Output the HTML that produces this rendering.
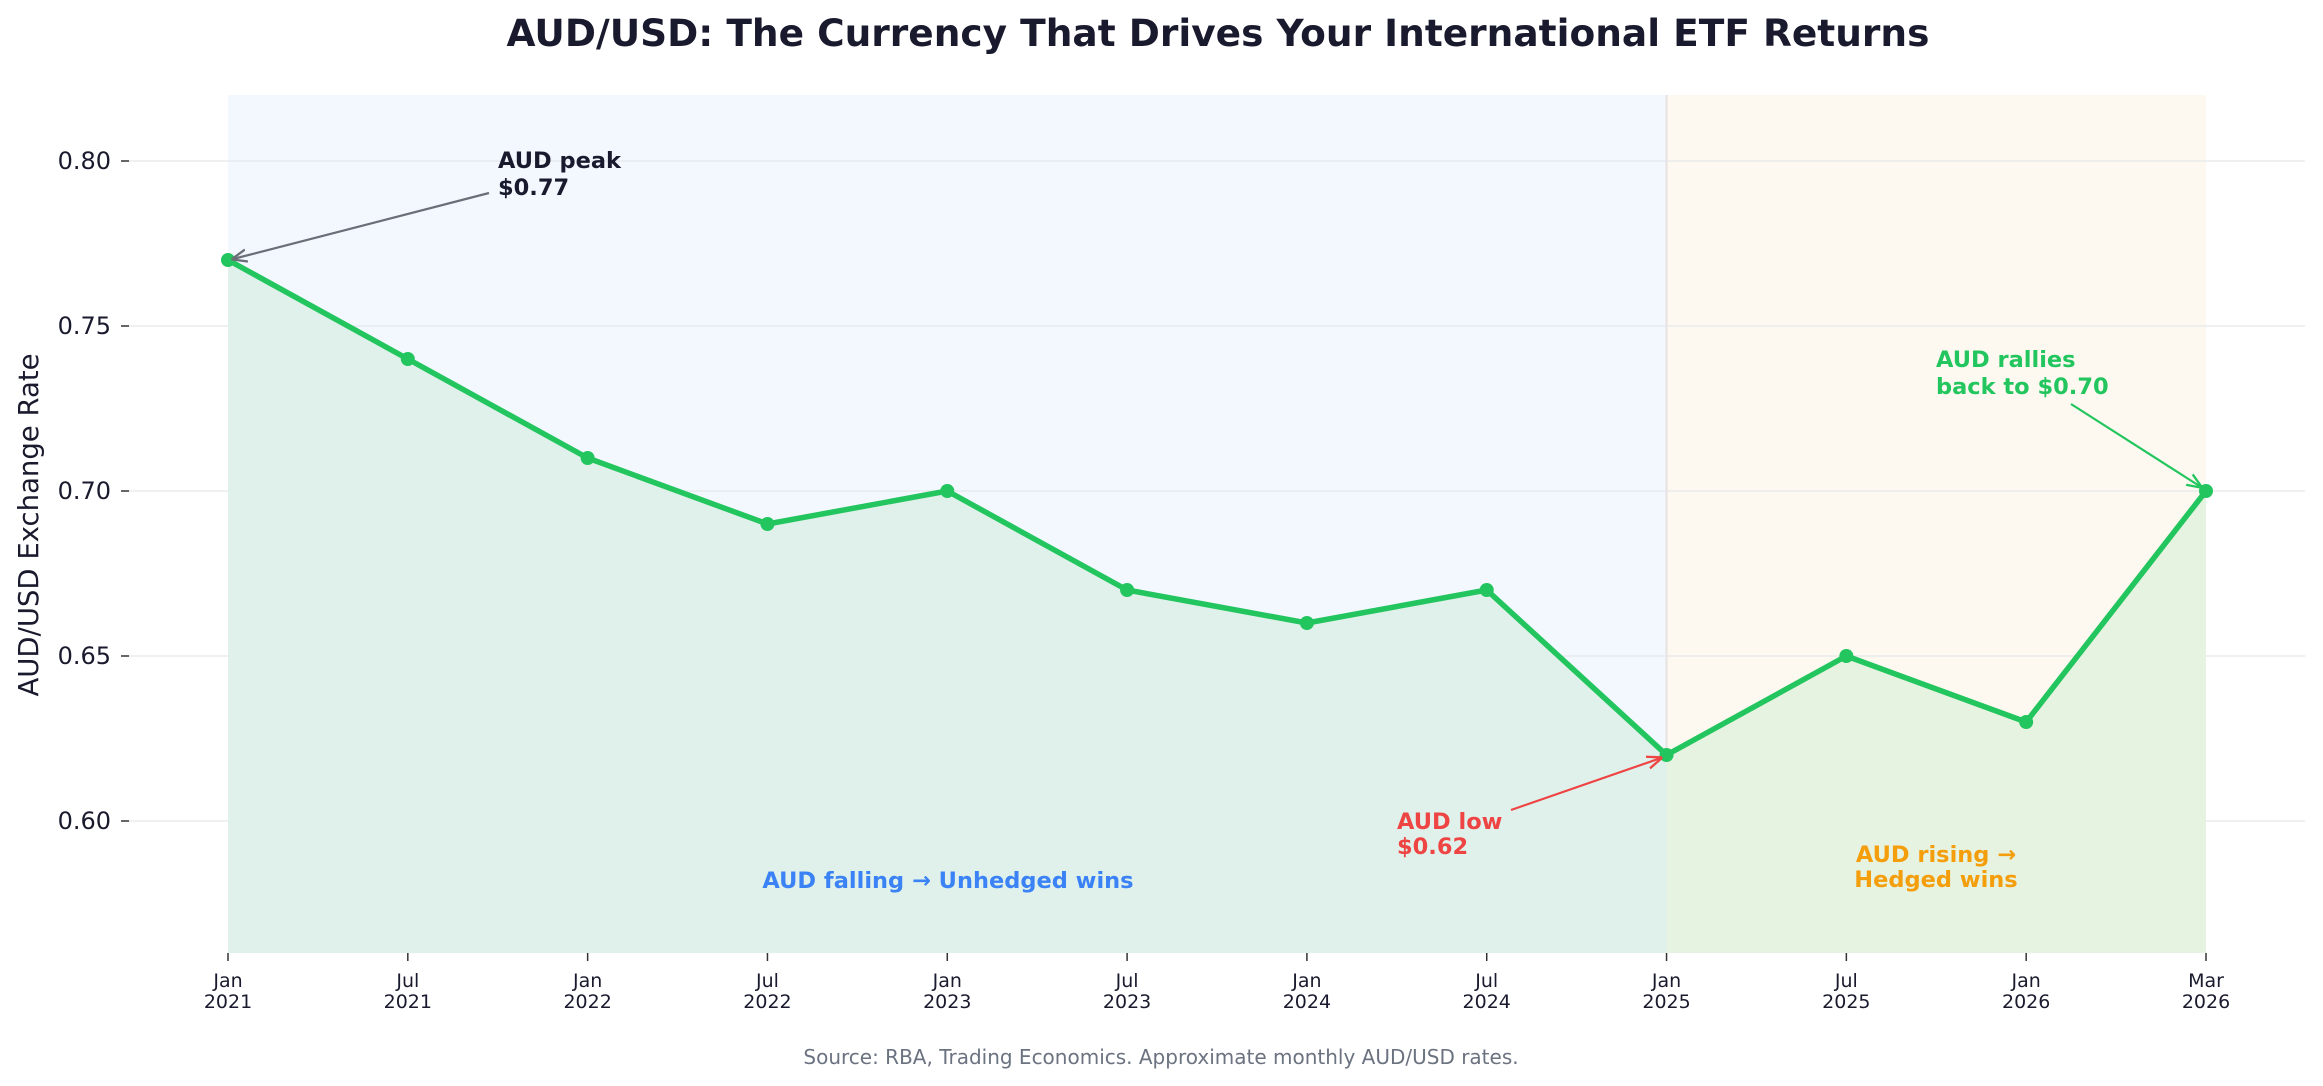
<!DOCTYPE html>
<html><head><meta charset="utf-8"><style>
html,body{margin:0;padding:0;background:#fff;}
svg{display:block;font-family:"DejaVu Sans","Liberation Sans",sans-serif;}
</style></head><body>
<svg id="chart" width="2323" height="1086" viewBox="0 0 2323 1086">
<defs>
<marker id="arrG" viewBox="0 0 10 10" refX="9" refY="5" markerWidth="7" markerHeight="7" orient="auto"><path d="M0,1 L10,5 L0,9" fill="none" stroke="#6b6e76" stroke-width="1.5"/></marker>
<marker id="arrR" viewBox="0 0 10 10" refX="9" refY="5" markerWidth="7" markerHeight="7" orient="auto"><path d="M0,1 L10,5 L0,9" fill="none" stroke="#ef4444" stroke-width="1.5"/></marker>
<marker id="arrGr" viewBox="0 0 10 10" refX="9" refY="5" markerWidth="7" markerHeight="7" orient="auto"><path d="M0,1 L10,5 L0,9" fill="none" stroke="#22c55e" stroke-width="1.5"/></marker>
</defs>
<text x="1218" y="46" text-anchor="middle" font-size="37.5" font-weight="bold" fill="#1a1a2e">AUD/USD: The Currency That Drives Your International ETF Returns</text>
<g id="bands"></g>
<g id="grid"></g>
<g id="area"></g>
<g id="series"></g>
<g id="axes"></g>
<text transform="translate(38,525) rotate(-90)" text-anchor="middle" font-size="27.5" fill="#1a1a2e">AUD/USD Exchange Rate</text>

<text x="498" y="168" font-size="22.5" font-weight="bold" fill="#1a1a2e"><tspan x="498">AUD peak</tspan><tspan x="498" dy="27">$0.77</tspan></text>
<line x1="489" y1="193" x2="233" y2="259" stroke="#6b6e76" stroke-width="2.2" marker-end="url(#arrG)"/>
<text x="1936" y="367" font-size="22.5" font-weight="bold" fill="#22c55e"><tspan x="1936">AUD rallies</tspan><tspan x="1936" dy="27">back to $0.70</tspan></text>
<line x1="2071" y1="404" x2="2201" y2="487" stroke="#22c55e" stroke-width="2.2" marker-end="url(#arrGr)"/>
<text x="1397" y="829" font-size="22.5" font-weight="bold" fill="#ef4444"><tspan x="1397">AUD low</tspan><tspan x="1397" dy="25">$0.62</tspan></text>
<line x1="1511" y1="810" x2="1661" y2="758" stroke="#ef4444" stroke-width="2.2" marker-end="url(#arrR)"/>
<text x="948" y="888" text-anchor="middle" font-size="22.5" font-weight="bold" fill="#3b82f6">AUD falling → Unhedged wins</text>
<text x="1936" y="862" text-anchor="middle" font-size="22.5" font-weight="bold" fill="#f59e0b"><tspan x="1936">AUD rising →</tspan><tspan x="1936" dy="25">Hedged wins</tspan></text>
<text x="1161" y="1064" text-anchor="middle" font-size="20" fill="#6b7280">Source: RBA, Trading Economics. Approximate monthly AUD/USD rates.</text>
</svg>
<script>
const categories = ["Jan\n2021","Jul\n2021","Jan\n2022","Jul\n2022","Jan\n2023","Jul\n2023","Jan\n2024","Jul\n2024","Jan\n2025","Jul\n2025","Jan\n2026","Mar\n2026"];
const rates = [0.77,0.74,0.71,0.69,0.70,0.67,0.66,0.67,0.62,0.65,0.63,0.70];
const yTicks = [0.60,0.65,0.70,0.75,0.80];
const splitIndex = 8;

const NS = "http://www.w3.org/2000/svg";
const x0 = 228, x1 = 2206, yMin = 0.56, yMax = 0.82, yTop = 95, yBot = 953;
const xs = i => x0 + (x1 - x0) * i / (categories.length - 1);
const ys = v => yBot - (v - yMin) / (yMax - yMin) * (yBot - yTop);
function mk(tag, attrs, parent){const e=document.createElementNS(NS,tag);for(const k in attrs)e.setAttribute(k,attrs[k]);document.getElementById(parent).appendChild(e);return e;}

let b = mk("rect",{x:xs(0),y:yTop,width:xs(splitIndex)-xs(0),height:yBot-yTop,fill:"#f3f7fe"},"bands");


b = mk("rect",{x:xs(splitIndex),y:yTop,width:xs(categories.length-1)-xs(splitIndex),height:yBot-yTop,fill:"#fdf9f0"},"bands");


b = mk("line",{x1:xs(splitIndex),x2:xs(splitIndex),y1:yTop,y2:yBot,stroke:"#e8e2e2","stroke-width":2},"bands");



yTicks.forEach(t=>{
  const y=ys(t);
  let g=mk("line",{x1:129,x2:2305,y1:y,y2:y,stroke:"#e5e7eb","stroke-width":1.2},"grid");
  
  
  let tk=mk("line",{x1:121,x2:129,y1:y,y2:y,stroke:"#333","stroke-width":1.5},"axes");
  
  
  let lb=mk("text",{x:111,y:y+8,"text-anchor":"end","font-size":24,fill:"#1a1a2e"},"axes");
  lb.textContent=t.toFixed(2);
  
  
});

function areaPath(a,bIdx){let d=`M${xs(a)},${yBot}`;for(let i=a;i<=bIdx;i++)d+=` L${xs(i)},${ys(rates[i])}`;return d+` L${xs(bIdx)},${yBot} Z`;}
let a1=mk("path",{d:areaPath(0,splitIndex),fill:"#dff1ea"},"area");


let a2=mk("path",{d:areaPath(splitIndex,rates.length-1),fill:"#e6f3e1"},"area");



let ln=mk("polyline",{points:rates.map((v,i)=>xs(i)+","+ys(v)).join(" "),fill:"none",stroke:"#22c55e","stroke-width":5.5,"stroke-linejoin":"round"},"series");


rates.forEach((v,i)=>{
  let c=mk("circle",{cx:xs(i),cy:ys(v),r:7,fill:"#22c55e"},"series");
  
  
});

categories.forEach((c,i)=>{
  const x=xs(i);
  let tk=mk("line",{x1:x,x2:x,y1:yBot,y2:yBot+8,stroke:"#333","stroke-width":1.5},"axes");
  
  
  const parts=c.split("\n");
  let t=mk("text",{x:x,y:987,"text-anchor":"middle","font-size":19,fill:"#1a1a2e"},"axes");
  
  
  parts.forEach((p,j)=>{const s=document.createElementNS(NS,"tspan");s.setAttribute("x",x);s.setAttribute("dy",j?21:0);s.textContent=p;t.appendChild(s);});
});
</script>
</body></html>
